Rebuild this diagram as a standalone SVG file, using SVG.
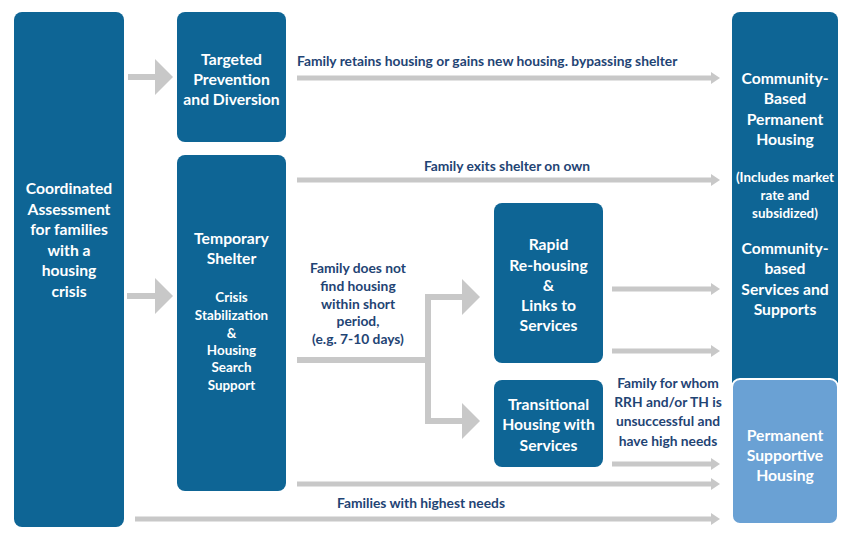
<svg xmlns="http://www.w3.org/2000/svg" width="850" height="554" viewBox="0 0 850 554">
<style>
.box{fill:#0e6595}
.psh{fill:#6aa1d4;stroke:#ffffff;stroke-width:2}
.t{font-family:Lato,"Liberation Sans",sans-serif;font-weight:bold;fill:#ffffff;text-anchor:middle;dominant-baseline:central}
.big{font-size:15.7px}
.sm{font-size:13.4px}
.lab{font-family:Lato,"Liberation Sans",sans-serif;font-weight:bold;fill:#1f4474;font-size:13.8px;dominant-baseline:central}
.c{text-anchor:middle}
.ln{fill:none;stroke:#c8c8c8;stroke-width:5}
.lnb{fill:none;stroke:#c8c8c8;stroke-width:6}
</style>
<defs>
<marker id="ah" markerUnits="userSpaceOnUse" viewBox="0 0 9 12" refX="0" refY="6" markerWidth="9" markerHeight="12" orient="auto">
<path d="M0,0 L9,6 L0,12 z" fill="#c8c8c8"/>
</marker>
<marker id="ahb" markerUnits="userSpaceOnUse" viewBox="0 0 18 36" refX="0" refY="18" markerWidth="18" markerHeight="36" orient="auto">
<path d="M0,0 L18,18 L0,36 z" fill="#c8c8c8"/>
</marker>
</defs>
<rect width="850" height="554" fill="#ffffff"/>
<g id="connectors">
<path class="lnb" d="M128,77 H155" marker-end="url(#ahb)"/>
<path class="lnb" d="M127,296 H155" marker-end="url(#ahb)"/>
<path class="ln" d="M297,78 H711" marker-end="url(#ah)"/>
<path class="ln" d="M297,180 H711" marker-end="url(#ah)"/>
<path class="lnb" d="M297,360 H428 V297 H462" marker-end="url(#ahb)"/>
<path class="lnb" d="M428,360 V421 H462" marker-end="url(#ahb)"/>
<path class="ln" d="M612,289 H711" marker-end="url(#ah)"/>
<path class="ln" d="M612,351 H711" marker-end="url(#ah)"/>
<path class="ln" d="M612,464 H711" marker-end="url(#ah)"/>
<path class="ln" d="M297,484 H711" marker-end="url(#ah)"/>
<path class="ln" d="M135,519 H711" marker-end="url(#ah)"/>
<text class="lab" x="297" y="60">Family retains housing or gains new housing. bypassing shelter</text>
<text class="lab c" x="507" y="165">Family exits shelter on own</text>
<text class="lab c" x="358"><tspan x="358" y="267">Family does not</tspan><tspan x="358" y="285">find housing</tspan><tspan x="358" y="303">within short</tspan><tspan x="358" y="320">period,</tspan><tspan x="358" y="338">(e.g. 7-10 days)</tspan></text>
<text class="lab c" x="668"><tspan x="668" y="382">Family for whom</tspan><tspan x="668" y="401">RRH and/or TH is</tspan><tspan x="668" y="420">unsuccessful and</tspan><tspan x="668" y="440">have high needs</tspan></text>
<text class="lab c" x="421" y="502">Families with highest needs</text>
</g>
<g id="coordinated-assessment">
<rect class="box" x="14" y="12" width="110" height="515" rx="8"/>
<text class="t big"><tspan x="69" y="188">Coordinated</tspan><tspan x="69" y="209">Assessment</tspan><tspan x="69" y="229">for families</tspan><tspan x="69" y="250">with a</tspan><tspan x="69" y="270">housing</tspan><tspan x="69" y="291">crisis</tspan></text>
</g>
<g id="targeted-prevention">
<rect class="box" x="177" y="12" width="109" height="130" rx="8"/>
<text class="t big"><tspan x="231.5" y="59">Targeted</tspan><tspan x="231.5" y="79">Prevention</tspan><tspan x="231.5" y="99">and Diversion</tspan></text>
</g>
<g id="temporary-shelter">
<rect class="box" x="177" y="155" width="109" height="336" rx="8"/>
<text class="t big"><tspan x="231.5" y="238">Temporary</tspan><tspan x="231.5" y="258">Shelter</tspan></text>
<text class="t sm"><tspan x="231.5" y="297">Crisis</tspan><tspan x="231.5" y="315">Stabilization</tspan><tspan x="231.5" y="333">&amp;</tspan><tspan x="231.5" y="350">Housing</tspan><tspan x="231.5" y="367">Search</tspan><tspan x="231.5" y="385">Support</tspan></text>
</g>
<g id="rapid-rehousing">
<rect class="box" x="494" y="203" width="109" height="160" rx="8"/>
<text class="t big"><tspan x="548.5" y="244">Rapid</tspan><tspan x="548.5" y="265">Re-housing</tspan><tspan x="548.5" y="285">&amp;</tspan><tspan x="548.5" y="305">Links to</tspan><tspan x="548.5" y="325">Services</tspan></text>
</g>
<g id="transitional-housing">
<rect class="box" x="494" y="380" width="109" height="87" rx="8"/>
<text class="t big"><tspan x="548.5" y="404">Transitional</tspan><tspan x="548.5" y="424">Housing with</tspan><tspan x="548.5" y="445">Services</tspan></text>
</g>
<g id="community-housing">
<rect class="box" x="732" y="12" width="106" height="390" rx="8"/>
<text class="t big"><tspan x="785" y="78">Community-</tspan><tspan x="785" y="98">Based</tspan><tspan x="785" y="119">Permanent</tspan><tspan x="785" y="139">Housing</tspan></text>
<text class="t sm"><tspan x="785" y="177">(Includes market</tspan><tspan x="785" y="195">rate and</tspan><tspan x="785" y="213">subsidized)</tspan></text>
<text class="t big"><tspan x="785" y="248">Community-</tspan><tspan x="785" y="268">based</tspan><tspan x="785" y="289">Services and</tspan><tspan x="785" y="309">Supports</tspan></text>
</g>
<g id="permanent-supportive-housing">
<rect class="psh" x="732" y="379" width="106" height="145" rx="8"/>
<text class="t big"><tspan x="785" y="435">Permanent</tspan><tspan x="785" y="455">Supportive</tspan><tspan x="785" y="475">Housing</tspan></text>
</g>
</svg>
